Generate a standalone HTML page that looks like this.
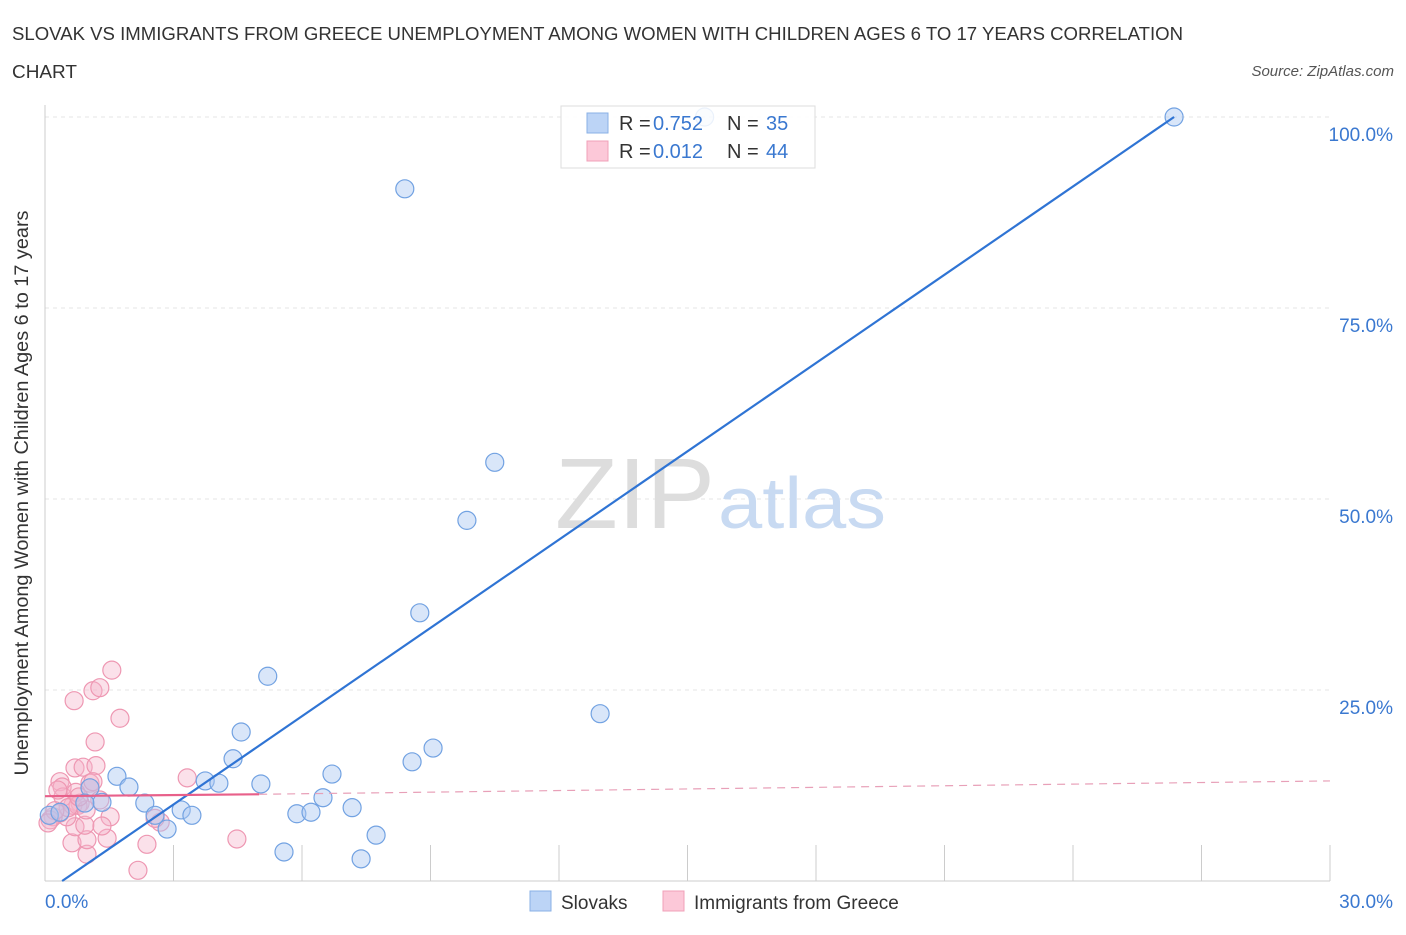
<!DOCTYPE html>
<html><head><meta charset="utf-8"><style>
body{margin:0;background:#fff;font-family:"Liberation Sans",sans-serif}
svg text{font-family:"Liberation Sans",sans-serif}
</style></head><body>
<svg width="1406" height="930" viewBox="0 0 1406 930">
<text x="12" y="40" font-size="18" fill="#333" textLength="1171" lengthAdjust="spacingAndGlyphs">SLOVAK VS IMMIGRANTS FROM GREECE UNEMPLOYMENT AMONG WOMEN WITH CHILDREN AGES 6 TO 17 YEARS CORRELATION</text>
<text x="12" y="78" font-size="18" fill="#333" textLength="65" lengthAdjust="spacingAndGlyphs">CHART</text>
<text x="1394" y="76" font-size="15" fill="#555" font-style="italic" text-anchor="end">Source: ZipAtlas.com</text>
<g id="grid"></g>
<g><text x="555" y="528" font-size="100" fill="#ddd" font-family="Liberation Serif" textLength="160" lengthAdjust="spacingAndGlyphs">ZIP</text><text x="718" y="528" font-size="72" fill="#c8daf2" textLength="168" lengthAdjust="spacingAndGlyphs">atlas</text></g>
<g id="axes"></g>
<g id="marks"></g>
<text x="28" y="493" font-size="19" fill="#333" text-anchor="middle" textLength="565" lengthAdjust="spacingAndGlyphs" transform="rotate(-90 28 493)">Unemployment Among Women with Children Ages 6 to 17 years</text>
<g>
<rect x="561" y="106" width="254" height="62" fill="rgba(255,255,255,0.85)" stroke="#ddd"/>
<rect x="587" y="113" width="21" height="20" fill="#bcd4f6" stroke="#8ab0e6"/>
<rect x="587" y="141" width="21" height="20" fill="#fcc8d8" stroke="#f0a0b8"/>
<text x="619" y="130" font-size="20" fill="#333">R = <tspan fill="#3a78d0" x="653">0.752</tspan><tspan x="727">N = </tspan><tspan fill="#3a78d0" x="766">35</tspan></text>
<text x="619" y="158" font-size="20" fill="#333">R = <tspan fill="#3a78d0" x="653">0.012</tspan><tspan x="727">N = </tspan><tspan fill="#3a78d0" x="766">44</tspan></text>
</g>
<g>
<rect x="530" y="891" width="21" height="20" fill="#bcd4f6" stroke="#8ab0e6"/>
<text x="561" y="909" font-size="19" fill="#333">Slovaks</text>
<rect x="663" y="891" width="21" height="20" fill="#fcc8d8" stroke="#f0a0b8"/>
<text x="694" y="909" font-size="19" fill="#333">Immigrants from Greece</text>
</g>
</svg>
<script>
const yTicks=[25,50,75,100];
const yTickLabels=["25.0%","50.0%","75.0%","100.0%"];
const xTicks=[0,3,6,9,12,15,18,21,24,27,30];
const blueX=[26.36,8.4,10.5,9.85,8.75,5.2,12.96,4.58,9.06,4.39,8.57,1.68,6.7,3.74,4.06,5.04,1.96,1.05,6.49,1.33,2.33,7.17,3.18,2.57,5.88,6.21,3.43,2.85,7.73,5.58,7.38,15.4,0.1,0.35,0.93];
const blueY=[100,90.6,54.8,47.2,35.1,26.8,21.9,19.5,17.4,16.0,15.6,13.7,14.0,13.1,12.8,12.7,12.3,12.2,10.9,10.3,10.2,9.6,9.3,8.6,8.8,9.0,8.6,6.8,6.0,3.8,2.9,100,8.6,9,10.2];
const pinkX=[1.56,1.12,1.28,0.68,1.75,1.17,0.70,0.89,1.19,0.35,0.40,1.05,3.32,1.52,1.45,2.38,2.17,4.48,0.98,0.63,0.98,0.70,0.93,2.69,2.57,0.51,0.35,0.19,0.12,0.82,0.65,0.42,1.05,1.12,0.30,0.72,1.28,0.77,0.54,0.23,0.07,1.33,0.96,0.79];
const pinkY=[27.6,24.9,25.3,23.6,21.3,18.2,14.8,14.9,15.1,13.0,12.3,12.8,13.5,8.4,5.6,4.8,1.4,5.5,3.5,5.0,5.4,7.1,7.3,7.7,8.2,8.4,8.9,8.4,8.0,10.2,9.9,11.0,12.2,13.0,11.9,11.6,10.6,9.9,9.6,9.2,7.6,7.2,9.3,11.0];
const blueTrend=[[0.4,0],[26.36,100]];
const pinkTrend=[[0,11.1],[5,11.35],[30,13.1]];
const NS="http://www.w3.org/2000/svg";
const X=v=>45+v/30*1285, Y=v=>881-v*7.64;
function mk(t,a,p){const e=document.createElementNS(NS,t);for(const k in a)e.setAttribute(k,a[k]);p.appendChild(e);return e;}
const grid=document.getElementById('grid'),axes=document.getElementById('axes'),marks=document.getElementById('marks');
yTicks.forEach((t,i)=>{
 const l=mk('line',{x1:45,x2:1330,y1:Y(t),y2:Y(t),stroke:'#e6e6e6','stroke-dasharray':'4 4'},grid);
 
 
 const tx=mk('text',{x:1393,y:Y(t)+24,'font-size':19,fill:'#3a78d0','text-anchor':'end'},axes);
 tx.textContent=yTickLabels[i];
 
 
});
const ax=mk('line',{x1:45,x2:1330,y1:881,y2:881,stroke:'#ccc'},axes);


const ay=mk('line',{x1:45,x2:45,y1:105,y2:881,stroke:'#ccc'},axes);


xTicks.forEach(t=>{
 const l=mk('line',{x1:X(t),x2:X(t),y1:845,y2:881,stroke:'#ccc'},axes);
 
 
});
const xl0=mk('text',{x:45,y:908,'font-size':19,fill:'#3a78d0'},axes);xl0.textContent='0.0%';


const xl1=mk('text',{x:1393,y:908,'font-size':19,fill:'#3a78d0','text-anchor':'end'},axes);xl1.textContent='30.0%';


pinkX.forEach((v,i)=>{
 const c=mk('circle',{cx:X(v),cy:Y(pinkY[i]),r:9,fill:'rgba(246,180,202,0.4)',stroke:'#ee97b2','stroke-width':1.2},marks);
 
 
});
blueX.forEach((v,i)=>{
 const c=mk('circle',{cx:X(v),cy:Y(blueY[i]),r:9,fill:'rgba(170,200,242,0.45)',stroke:'#72a2e2','stroke-width':1.2},marks);
 
 
});
const bl=mk('line',{x1:X(blueTrend[0][0]),y1:Y(blueTrend[0][1]),x2:X(blueTrend[1][0]),y2:Y(blueTrend[1][1]),stroke:'#2f74d4','stroke-width':2.2},marks);


const pl=mk('line',{x1:X(pinkTrend[0][0]),y1:Y(pinkTrend[0][1]),x2:X(pinkTrend[1][0]),y2:Y(pinkTrend[1][1]),stroke:'#e8608a','stroke-width':2.2},marks);


const pd=mk('line',{x1:X(pinkTrend[1][0]),y1:Y(pinkTrend[1][1]),x2:X(pinkTrend[2][0]),y2:Y(pinkTrend[2][1]),stroke:'#e8a0b8','stroke-width':1.2,'stroke-dasharray':'8 6'},marks);


</script>
</body></html>
